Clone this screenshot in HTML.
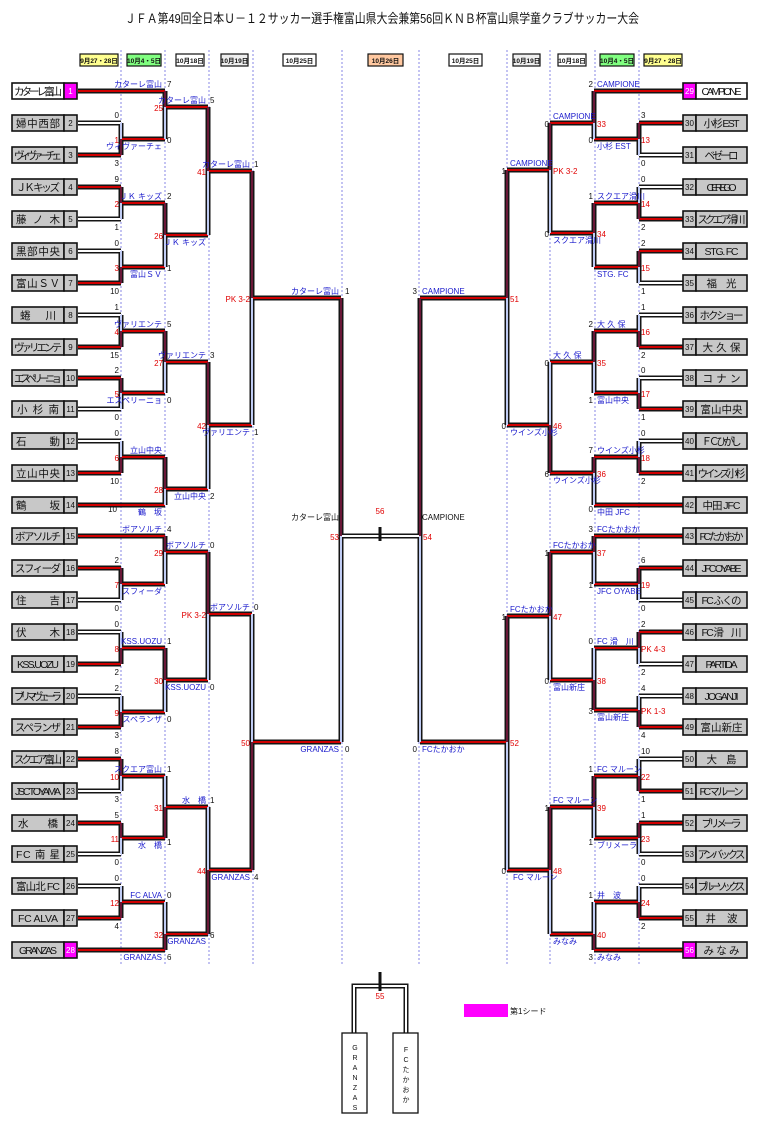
<!DOCTYPE html>
<html><head><meta charset="utf-8"><style>
body{margin:0;background:#fff}
svg{display:block;font-family:"Liberation Sans","Noto Sans CJK JP",sans-serif}
.o{fill:none;stroke:#151515;stroke-width:5}
.r{fill:none;stroke:#d00000;stroke-width:2}
.w{fill:none;stroke:#fff;stroke-width:2}
.d{fill:none;stroke:#6a1838;stroke-width:2}
.l{fill:none;stroke:#c0ccf4;stroke-width:2}
.b{fill:#1a1acc;font-size:8px}
.k{fill:#111;font-size:8px}
.e{fill:#e00000;font-size:8px}
.n{fill:#111;font-size:10.5px}
.nb{fill:#111;font-size:8px}
.h{font-size:6.5px;font-weight:bold;fill:#111}
</style></head><body>
<svg width="764" height="1124" viewBox="0 0 764 1124">
<text x="382" y="23" text-anchor="middle" font-size="13" textLength="514" lengthAdjust="spacingAndGlyphs" fill="#111">ＪＦＡ第49回全日本Ｕ－１２サッカー選手権富山県大会兼第56回ＫＮＢ杯富山県学童クラブサッカー大会</text>

<g stroke="#6a6ae0" stroke-width="0.8" stroke-dasharray="2,2">
<line x1="121" y1="50" x2="121" y2="965"/><line x1="165" y1="50" x2="165" y2="965"/><line x1="209" y1="50" x2="209" y2="965"/><line x1="253" y1="50" x2="253" y2="965"/><line x1="342" y1="50" x2="342" y2="965"/><line x1="419" y1="50" x2="419" y2="965"/><line x1="507" y1="50" x2="507" y2="965"/><line x1="550" y1="50" x2="550" y2="965"/><line x1="595" y1="50" x2="595" y2="965"/><line x1="639" y1="50" x2="639" y2="965"/>
</g>

<g stroke="#111" stroke-width="1.2">
<rect x="80" y="54" width="38" height="12" fill="#ffff90"/><rect x="127" y="54" width="34" height="12" fill="#80ff80"/><rect x="176" y="54" width="28" height="12" fill="#fff"/><rect x="221" y="54" width="27" height="12" fill="#eee"/><rect x="283" y="54" width="33" height="12" fill="#fff"/><rect x="368" y="54" width="35" height="12" fill="#ffc8a0"/>
<rect x="449" y="54" width="33" height="12" fill="#fff"/><rect x="513" y="54" width="27" height="12" fill="#eee"/><rect x="558" y="54" width="28" height="12" fill="#fff"/><rect x="600" y="54" width="34" height="12" fill="#80ff80"/><rect x="644" y="54" width="38" height="12" fill="#ffff90"/>
</g>
<g class="h" text-anchor="middle">
<text x="99" y="63">9月27・28日</text><text x="144" y="63">10月4・5日</text><text x="190" y="63">10月18日</text><text x="234.5" y="63">10月19日</text><text x="299.5" y="63">10月25日</text><text x="385.5" y="63">10月26日</text>
<text x="465.5" y="63">10月25日</text><text x="526.5" y="63">10月19日</text><text x="572" y="63">10月18日</text><text x="617" y="63">10月4・5日</text><text x="663" y="63">9月27・28日</text>
</g>

<!-- outlines -->
<path class="o" d="M78 155H121M78 187H121M78 283H121M78 347H121M78 378H121M78 473H121M78 568H121M78 664H121M78 727H121M78 759H121M78 823H121M78 918H121M78 91H165M78 505H165M78 536H165M78 950H165M78 123H121M78 219H121M78 251H121M78 315H121M78 409H121M78 441H121M78 600H121M78 632H121M78 696H121M78 791H121M78 854H121M78 886H121
M121 139H165M121 203H165M121 267H165M121 331H165M121 393H165M121 457H165M121 584H165M121 648H165M121 712H165M121 776H165M121 838H165M121 902H165
M165 107H208M165 235H208M165 362H208M165 489H208M165 552H208M165 680H208M165 807H208M165 934H208
M208 171H252M208 425H252M208 614H252M208 870H252M252 298H341M252 742H341M341 536H420
M121 123V155M121 187V219M121 251V283M121 315V347M121 378V409M121 441V473M121 568V600M121 632V664M121 696V727M121 759V791M121 823V854M121 886V918
M165 91V139M165 203V267M165 331V393M165 457V505M165 536V584M165 648V712M165 776V838M165 902V950
M208 107V235M208 362V489M208 552V680M208 807V934M252 171V425M252 614V870M341 298V742
M639 123H683M639 219H683M639 251H683M639 347H683M639 409H683M639 473H683M639 568H683M639 632H683M639 727H683M639 791H683M639 823H683M639 918H683M594 91H683M594 505H683M594 536H683M594 950H683M639 155H683M639 187H683M639 283H683M639 315H683M639 378H683M639 441H683M639 600H683M639 664H683M639 696H683M639 759H683M639 854H683M639 886H683
M594 139H639M594 203H639M594 267H639M594 331H639M594 393H639M594 457H639M594 584H639M594 648H639M594 710H639M594 776H639M594 838H639M594 902H639
M550 123H594M550 233H594M550 362H594M550 473H594M550 552H594M550 680H594M550 807H594M550 934H594
M507 170H550M507 425H550M507 616H550M507 870H550M420 298H507M420 742H507
M639 123V155M639 187V219M639 251V283M639 315V347M639 378V409M639 441V473M639 568V600M639 632V664M639 696V727M639 759V791M639 823V854M639 886V918
M594 91V139M594 203V267M594 331V393M594 457V505M594 536V584M594 648V710M594 776V838M594 902V950
M550 123V233M550 362V473M550 552V680M550 807V934M507 170V425M507 616V870M420 298V742
M354 1033V986H406V1033"/>

<!-- red horizontals -->
<path class="r" d="M78 155H121M78 187H121M78 283H121M78 347H121M78 378H121M78 473H121M78 568H121M78 664H121M78 727H121M78 759H121M78 823H121M78 918H121M78 91H165M78 505H165M78 536H165M78 950H165
M121 139H165M121 203H165M121 267H165M121 331H165M121 393H165M121 457H165M121 584H165M121 648H165M121 712H165M121 776H165M121 838H165M121 902H165
M165 107H208M165 235H208M165 362H208M165 489H208M165 552H208M165 680H208M165 807H208M165 934H208
M208 171H252M208 425H252M208 614H252M208 870H252M252 298H341M252 742H341
M639 123H683M639 219H683M639 251H683M639 347H683M639 409H683M639 473H683M639 568H683M639 632H683M639 727H683M639 791H683M639 823H683M639 918H683M594 91H683M594 505H683M594 536H683M594 950H683
M594 139H639M594 203H639M594 267H639M594 331H639M594 393H639M594 457H639M594 584H639M594 648H639M594 710H639M594 776H639M594 838H639M594 902H639
M550 123H594M550 233H594M550 362H594M550 473H594M550 552H594M550 680H594M550 807H594M550 934H594
M507 170H550M507 425H550M507 616H550M507 870H550M420 298H507M420 742H507"/>
<!-- white horizontals -->
<path class="w" d="M78 123H121M78 219H121M78 251H121M78 315H121M78 409H121M78 441H121M78 600H121M78 632H121M78 696H121M78 791H121M78 854H121M78 886H121M341 536H420
M639 155H683M639 187H683M639 283H683M639 315H683M639 378H683M639 441H683M639 600H683M639 664H683M639 696H683M639 759H683M639 854H683M639 886H683
M354 1033V986H406V1033"/>
<!-- dark verticals -->
<path class="d" d="M121 139V155M121 187V203M121 267V283M121 331V347M121 378V393M121 457V473M121 568V584M121 648V664M121 712V727M121 759V776M121 823V838M121 902V918
M165 91V107M165 203V235M165 331V362M165 457V489M165 536V552M165 648V680M165 807V838M165 934V950
M208 107V171M208 362V425M208 552V614M208 870V934M252 171V298M252 742V870M341 298V536
M639 123V139M639 203V219M639 251V267M639 331V347M639 393V409M639 457V473M639 568V584M639 632V648M639 710V727M639 776V791M639 823V838M639 902V918
M594 91V123M594 203V233M594 331V362M594 457V473M594 536V552M594 680V710M594 776V807M594 934V950
M550 123V170M550 425V473M550 552V616M550 807V870M507 170V298M507 616V742M420 298V536"/>
<!-- light verticals -->
<path class="l" d="M121 123V139M121 203V219M121 251V267M121 315V331M121 393V409M121 441V457M121 584V600M121 632V648M121 696V712M121 776V791M121 838V854M121 886V902
M165 107V139M165 235V267M165 362V393M165 489V505M165 552V584M165 680V712M165 776V807M165 902V934
M208 171V235M208 425V489M208 614V680M208 807V870M252 298V425M252 614V742M341 536V742
M639 139V155M639 187V203M639 267V283M639 315V331M639 378V393M639 441V457M639 584V600M639 648V664M639 696V710M639 759V776M639 838V854M639 886V902
M594 123V139M594 233V267M594 362V393M594 473V505M594 552V584M594 648V680M594 807V838M594 902V934
M550 170V233M550 362V425M550 616V680M550 870V934M507 298V425M507 742V870M420 536V742"/>
<path d="M380 527V541M380 972V991" stroke="#111" stroke-width="3"/>

<!-- left team boxes -->
<g stroke="#111" stroke-width="1.6">
<rect x="12" y="83" width="52" height="16" fill="#fff"/><rect x="64" y="83" width="13" height="16" fill="#ff00ff"/>
<rect x="12" y="115" width="52" height="16" fill="#c8c8c8"/><rect x="64" y="115" width="13" height="16" fill="#c8c8c8"/>
<rect x="12" y="147" width="52" height="16" fill="#c8c8c8"/><rect x="64" y="147" width="13" height="16" fill="#c8c8c8"/>
<rect x="12" y="179" width="52" height="16" fill="#c8c8c8"/><rect x="64" y="179" width="13" height="16" fill="#c8c8c8"/>
<rect x="12" y="211" width="52" height="16" fill="#c8c8c8"/><rect x="64" y="211" width="13" height="16" fill="#c8c8c8"/>
<rect x="12" y="243" width="52" height="16" fill="#c8c8c8"/><rect x="64" y="243" width="13" height="16" fill="#c8c8c8"/>
<rect x="12" y="275" width="52" height="16" fill="#c8c8c8"/><rect x="64" y="275" width="13" height="16" fill="#c8c8c8"/>
<rect x="12" y="307" width="52" height="16" fill="#c8c8c8"/><rect x="64" y="307" width="13" height="16" fill="#c8c8c8"/>
<rect x="12" y="339" width="52" height="16" fill="#c8c8c8"/><rect x="64" y="339" width="13" height="16" fill="#c8c8c8"/>
<rect x="12" y="370" width="52" height="16" fill="#c8c8c8"/><rect x="64" y="370" width="13" height="16" fill="#c8c8c8"/>
<rect x="12" y="401" width="52" height="16" fill="#c8c8c8"/><rect x="64" y="401" width="13" height="16" fill="#c8c8c8"/>
<rect x="12" y="433" width="52" height="16" fill="#c8c8c8"/><rect x="64" y="433" width="13" height="16" fill="#c8c8c8"/>
<rect x="12" y="465" width="52" height="16" fill="#c8c8c8"/><rect x="64" y="465" width="13" height="16" fill="#c8c8c8"/>
<rect x="12" y="497" width="52" height="16" fill="#c8c8c8"/><rect x="64" y="497" width="13" height="16" fill="#c8c8c8"/>
<rect x="12" y="528" width="52" height="16" fill="#c8c8c8"/><rect x="64" y="528" width="13" height="16" fill="#c8c8c8"/>
<rect x="12" y="560" width="52" height="16" fill="#c8c8c8"/><rect x="64" y="560" width="13" height="16" fill="#c8c8c8"/>
<rect x="12" y="592" width="52" height="16" fill="#c8c8c8"/><rect x="64" y="592" width="13" height="16" fill="#c8c8c8"/>
<rect x="12" y="624" width="52" height="16" fill="#c8c8c8"/><rect x="64" y="624" width="13" height="16" fill="#c8c8c8"/>
<rect x="12" y="656" width="52" height="16" fill="#c8c8c8"/><rect x="64" y="656" width="13" height="16" fill="#c8c8c8"/>
<rect x="12" y="688" width="52" height="16" fill="#c8c8c8"/><rect x="64" y="688" width="13" height="16" fill="#c8c8c8"/>
<rect x="12" y="719" width="52" height="16" fill="#c8c8c8"/><rect x="64" y="719" width="13" height="16" fill="#c8c8c8"/>
<rect x="12" y="751" width="52" height="16" fill="#c8c8c8"/><rect x="64" y="751" width="13" height="16" fill="#c8c8c8"/>
<rect x="12" y="783" width="52" height="16" fill="#c8c8c8"/><rect x="64" y="783" width="13" height="16" fill="#c8c8c8"/>
<rect x="12" y="815" width="52" height="16" fill="#c8c8c8"/><rect x="64" y="815" width="13" height="16" fill="#c8c8c8"/>
<rect x="12" y="846" width="52" height="16" fill="#c8c8c8"/><rect x="64" y="846" width="13" height="16" fill="#c8c8c8"/>
<rect x="12" y="878" width="52" height="16" fill="#c8c8c8"/><rect x="64" y="878" width="13" height="16" fill="#c8c8c8"/>
<rect x="12" y="910" width="52" height="16" fill="#c8c8c8"/><rect x="64" y="910" width="13" height="16" fill="#c8c8c8"/>
<rect x="12" y="942" width="52" height="16" fill="#c8c8c8"/><rect x="64" y="942" width="13" height="16" fill="#ff00ff"/>
</g>
<g class="n" text-anchor="middle" lengthAdjust="spacingAndGlyphs">
<text x="38" y="95" textLength="48">カターレ富山</text><text x="38" y="127" textLength="44">婦 中 西 部</text><text x="38" y="159" textLength="48">ヴィヴァーチェ</text><text x="38" y="191" textLength="44">ＪＫ キッズ</text><text x="38" y="223" textLength="44">藤　ノ　木</text><text x="38" y="255" textLength="44">黒部中央</text><text x="38" y="287" textLength="44">富山ＳＶ</text><text x="38" y="319" textLength="36">蜷　川</text><text x="38" y="351" textLength="48">ヴァリエンテ</text><text x="38" y="382" textLength="48">エスペリーニョ</text><text x="38" y="413" textLength="42">小杉南</text><text x="38" y="445" textLength="44">石　動</text><text x="38" y="477" textLength="44">立山中央</text><text x="38" y="509" textLength="44">鶴　坂</text><text x="38" y="540" textLength="46">ボアソルチ</text><text x="38" y="572" textLength="46">スフィーダ</text><text x="38" y="604" textLength="44">住　吉</text><text x="38" y="636" textLength="44">伏　木</text><text x="38" y="668" textLength="42">KSS.UOZU</text><text x="38" y="700" textLength="48">ブリマヴェーラ</text><text x="38" y="731" textLength="46">スペランザ</text><text x="38" y="763" textLength="48">スクエア富山</text><text x="38" y="795" textLength="46">JSC TOYAMA</text><text x="38" y="827" textLength="40">水　橋</text><text x="38" y="858" textLength="44">FC 南 星</text><text x="38" y="890" textLength="44">富山北 FC</text><text x="38" y="922" textLength="40">FC ALVA</text><text x="38" y="954" textLength="38">GRANZAS</text>
</g>
<g class="nb" text-anchor="middle">
<text x="70.5" y="94" fill="#fff">1</text><text x="70.5" y="126">2</text><text x="70.5" y="158">3</text><text x="70.5" y="190">4</text><text x="70.5" y="222">5</text><text x="70.5" y="254">6</text><text x="70.5" y="286">7</text><text x="70.5" y="318">8</text><text x="70.5" y="350">9</text><text x="70.5" y="381">10</text><text x="70.5" y="412">11</text><text x="70.5" y="444">12</text><text x="70.5" y="476">13</text><text x="70.5" y="508">14</text><text x="70.5" y="539">15</text><text x="70.5" y="571">16</text><text x="70.5" y="603">17</text><text x="70.5" y="635">18</text><text x="70.5" y="667">19</text><text x="70.5" y="699">20</text><text x="70.5" y="730">21</text><text x="70.5" y="762">22</text><text x="70.5" y="794">23</text><text x="70.5" y="826">24</text><text x="70.5" y="857">25</text><text x="70.5" y="889">26</text><text x="70.5" y="921">27</text><text x="70.5" y="953" fill="#fff">28</text>
</g>

<!-- right team boxes -->
<g stroke="#111" stroke-width="1.6">
<rect x="683" y="83" width="13" height="16" fill="#ff00ff"/><rect x="696" y="83" width="51" height="16" fill="#fff"/>
<rect x="683" y="115" width="13" height="16" fill="#c8c8c8"/><rect x="696" y="115" width="51" height="16" fill="#c8c8c8"/>
<rect x="683" y="147" width="13" height="16" fill="#c8c8c8"/><rect x="696" y="147" width="51" height="16" fill="#c8c8c8"/>
<rect x="683" y="179" width="13" height="16" fill="#c8c8c8"/><rect x="696" y="179" width="51" height="16" fill="#c8c8c8"/>
<rect x="683" y="211" width="13" height="16" fill="#c8c8c8"/><rect x="696" y="211" width="51" height="16" fill="#c8c8c8"/>
<rect x="683" y="243" width="13" height="16" fill="#c8c8c8"/><rect x="696" y="243" width="51" height="16" fill="#c8c8c8"/>
<rect x="683" y="275" width="13" height="16" fill="#c8c8c8"/><rect x="696" y="275" width="51" height="16" fill="#c8c8c8"/>
<rect x="683" y="307" width="13" height="16" fill="#c8c8c8"/><rect x="696" y="307" width="51" height="16" fill="#c8c8c8"/>
<rect x="683" y="339" width="13" height="16" fill="#c8c8c8"/><rect x="696" y="339" width="51" height="16" fill="#c8c8c8"/>
<rect x="683" y="370" width="13" height="16" fill="#c8c8c8"/><rect x="696" y="370" width="51" height="16" fill="#c8c8c8"/>
<rect x="683" y="401" width="13" height="16" fill="#c8c8c8"/><rect x="696" y="401" width="51" height="16" fill="#c8c8c8"/>
<rect x="683" y="433" width="13" height="16" fill="#c8c8c8"/><rect x="696" y="433" width="51" height="16" fill="#c8c8c8"/>
<rect x="683" y="465" width="13" height="16" fill="#c8c8c8"/><rect x="696" y="465" width="51" height="16" fill="#c8c8c8"/>
<rect x="683" y="497" width="13" height="16" fill="#c8c8c8"/><rect x="696" y="497" width="51" height="16" fill="#c8c8c8"/>
<rect x="683" y="528" width="13" height="16" fill="#c8c8c8"/><rect x="696" y="528" width="51" height="16" fill="#c8c8c8"/>
<rect x="683" y="560" width="13" height="16" fill="#c8c8c8"/><rect x="696" y="560" width="51" height="16" fill="#c8c8c8"/>
<rect x="683" y="592" width="13" height="16" fill="#c8c8c8"/><rect x="696" y="592" width="51" height="16" fill="#c8c8c8"/>
<rect x="683" y="624" width="13" height="16" fill="#c8c8c8"/><rect x="696" y="624" width="51" height="16" fill="#c8c8c8"/>
<rect x="683" y="656" width="13" height="16" fill="#c8c8c8"/><rect x="696" y="656" width="51" height="16" fill="#c8c8c8"/>
<rect x="683" y="688" width="13" height="16" fill="#c8c8c8"/><rect x="696" y="688" width="51" height="16" fill="#c8c8c8"/>
<rect x="683" y="719" width="13" height="16" fill="#c8c8c8"/><rect x="696" y="719" width="51" height="16" fill="#c8c8c8"/>
<rect x="683" y="751" width="13" height="16" fill="#c8c8c8"/><rect x="696" y="751" width="51" height="16" fill="#c8c8c8"/>
<rect x="683" y="783" width="13" height="16" fill="#c8c8c8"/><rect x="696" y="783" width="51" height="16" fill="#c8c8c8"/>
<rect x="683" y="815" width="13" height="16" fill="#c8c8c8"/><rect x="696" y="815" width="51" height="16" fill="#c8c8c8"/>
<rect x="683" y="846" width="13" height="16" fill="#c8c8c8"/><rect x="696" y="846" width="51" height="16" fill="#c8c8c8"/>
<rect x="683" y="878" width="13" height="16" fill="#c8c8c8"/><rect x="696" y="878" width="51" height="16" fill="#c8c8c8"/>
<rect x="683" y="910" width="13" height="16" fill="#c8c8c8"/><rect x="696" y="910" width="51" height="16" fill="#c8c8c8"/>
<rect x="683" y="942" width="13" height="16" fill="#ff00ff"/><rect x="696" y="942" width="51" height="16" fill="#c8c8c8"/>
</g>
<g class="n" text-anchor="middle" lengthAdjust="spacingAndGlyphs">
<text x="721.5" y="95" textLength="40">CAMPIONE</text><text x="721.5" y="127" textLength="36">小杉 EST</text><text x="721.5" y="159" textLength="34">ベゼーロ</text><text x="721.5" y="191" textLength="30">CEREGO</text><text x="721.5" y="223" textLength="48">スクエア滑川</text><text x="721.5" y="255" textLength="34">STG. FC</text><text x="721.5" y="287" textLength="30">福　光</text><text x="721.5" y="319" textLength="44">ホクショー</text><text x="721.5" y="351" textLength="38">大 久 保</text><text x="721.5" y="382" textLength="38">コ ナ ン</text><text x="721.5" y="413" textLength="42">富山中央</text><text x="721.5" y="445" textLength="40">ＦＣ ひがし</text><text x="721.5" y="477" textLength="48">ウインズ小杉</text><text x="721.5" y="509" textLength="38">中田 JFC</text><text x="721.5" y="540" textLength="44">FCたかおか</text><text x="721.5" y="572" textLength="40">JFC OYABE</text><text x="721.5" y="604" textLength="40">FC ふくの</text><text x="721.5" y="636" textLength="40">FC 滑　川</text><text x="721.5" y="668" textLength="32">PARTIDA</text><text x="721.5" y="700" textLength="34">JOGANJI</text><text x="721.5" y="731" textLength="42">富山新庄</text><text x="721.5" y="763" textLength="30">大　島</text><text x="721.5" y="795" textLength="44">FC マルーン</text><text x="721.5" y="827" textLength="40">ブリメーラ</text><text x="721.5" y="858" textLength="48">アンバックス</text><text x="721.5" y="890" textLength="48">ブルーソックス</text><text x="721.5" y="922" textLength="32">井　波</text><text x="721.5" y="954" textLength="36">みなみ</text>
</g>
<g class="nb" text-anchor="middle">
<text x="689.5" y="94" fill="#fff">29</text><text x="689.5" y="126">30</text><text x="689.5" y="158">31</text><text x="689.5" y="190">32</text><text x="689.5" y="222">33</text><text x="689.5" y="254">34</text><text x="689.5" y="286">35</text><text x="689.5" y="318">36</text><text x="689.5" y="350">37</text><text x="689.5" y="381">38</text><text x="689.5" y="412">39</text><text x="689.5" y="444">40</text><text x="689.5" y="476">41</text><text x="689.5" y="508">42</text><text x="689.5" y="539">43</text><text x="689.5" y="571">44</text><text x="689.5" y="603">45</text><text x="689.5" y="635">46</text><text x="689.5" y="667">47</text><text x="689.5" y="699">48</text><text x="689.5" y="730">49</text><text x="689.5" y="762">50</text><text x="689.5" y="794">51</text><text x="689.5" y="826">52</text><text x="689.5" y="857">53</text><text x="689.5" y="889">54</text><text x="689.5" y="921">55</text><text x="689.5" y="953" fill="#fff">56</text>
</g>

<!-- round1 scores & match nums left -->
<g class="k" text-anchor="end">
<text x="119" y="118">0</text><text x="119" y="166">3</text><text x="119" y="182">9</text><text x="119" y="230">1</text><text x="119" y="246">0</text><text x="119" y="294">10</text><text x="119" y="310">1</text><text x="119" y="358">15</text><text x="119" y="373">2</text><text x="119" y="420">0</text><text x="119" y="436">0</text><text x="119" y="484">10</text><text x="119" y="563">2</text><text x="119" y="611">0</text><text x="119" y="627">0</text><text x="119" y="675">2</text><text x="119" y="691">2</text><text x="119" y="738">3</text><text x="119" y="754">8</text><text x="119" y="802">3</text><text x="119" y="818">5</text><text x="119" y="865">0</text><text x="119" y="881">0</text><text x="119" y="929">4</text>
</g>
<g class="e" text-anchor="end">
<text x="119" y="143">1</text><text x="119" y="207">2</text><text x="119" y="271">3</text><text x="119" y="335">4</text><text x="119" y="397">5</text><text x="119" y="461">6</text><text x="119" y="588">7</text><text x="119" y="652">8</text><text x="119" y="716">9</text><text x="119" y="780">10</text><text x="119" y="842">11</text><text x="119" y="906">12</text>
<text x="163" y="111">25</text><text x="163" y="239">26</text><text x="163" y="366">27</text><text x="163" y="493">28</text><text x="163" y="556">29</text><text x="163" y="684">30</text><text x="163" y="811">31</text><text x="163" y="938">32</text>
<text x="206" y="175">41</text><text x="206" y="429">42</text><text x="206" y="618">PK 3-2</text><text x="206" y="874">44</text>
<text x="250" y="302">PK 3-2</text><text x="250" y="746">50</text><text x="339" y="540">53</text>
</g>
<!-- left blue labels -->
<g class="b" text-anchor="end">
<text x="162" y="87">カターレ富山</text><text x="162" y="199">ＪＫ キッズ</text><text x="162" y="327">ヴァリエンテ</text><text x="162" y="453">立山中央</text><text x="162" y="532">ボアソルチ</text><text x="162" y="644">KSS.UOZU</text><text x="162" y="772">スクエア富山</text><text x="162" y="898">FC ALVA</text>
<text x="162" y="149">ヴィヴァーチェ</text><text x="162" y="277">富山ＳＶ</text><text x="162" y="403">エスペリーニョ</text><text x="162" y="515">鶴　坂</text><text x="162" y="594">スフィーダ</text><text x="162" y="722">スペランザ</text><text x="162" y="848">水　橋</text><text x="162" y="960">GRANZAS</text>
<text x="206" y="103">カターレ富山</text><text x="206" y="358">ヴァリエンテ</text><text x="206" y="548">ボアソルチ</text><text x="206" y="803">水　橋</text>
<text x="206" y="245">ＪＫ キッズ</text><text x="206" y="499">立山中央</text><text x="206" y="690">KSS.UOZU</text><text x="206" y="944">GRANZAS</text>
<text x="250" y="167">カターレ富山</text><text x="250" y="610">ボアソルチ</text><text x="250" y="435">ヴァリエンテ</text><text x="250" y="880">GRANZAS</text>
<text x="339" y="294">カターレ富山</text><text x="339" y="752">GRANZAS</text>
</g>
<text x="339" y="520" class="k" text-anchor="end">カターレ富山</text>
<g class="k">
<text x="167" y="87">7</text><text x="167" y="199">2</text><text x="167" y="327">5</text><text x="167" y="532">4</text><text x="167" y="644">1</text><text x="167" y="772">1</text><text x="167" y="898">0</text>
<text x="167" y="143">0</text><text x="167" y="271">1</text><text x="167" y="403">0</text><text x="117" y="512" text-anchor="end">10</text><text x="167" y="722">0</text><text x="167" y="845">1</text><text x="167" y="960">6</text>
<text x="210" y="103">5</text><text x="210" y="358">3</text><text x="210" y="548">0</text><text x="210" y="803">1</text><text x="210" y="499">2</text><text x="210" y="690">0</text><text x="210" y="938">6</text>
<text x="254" y="167">1</text><text x="254" y="610">0</text><text x="254" y="435">1</text><text x="254" y="880">4</text>
<text x="345" y="294">1</text><text x="345" y="752">0</text>
</g>

<!-- right scores -->
<g class="k">
<text x="641" y="118">3</text><text x="641" y="166">0</text><text x="641" y="182">0</text><text x="641" y="230">2</text><text x="641" y="246">2</text><text x="641" y="294">1</text><text x="641" y="310">1</text><text x="641" y="358">2</text><text x="641" y="373">0</text><text x="641" y="420">1</text><text x="641" y="436">0</text><text x="641" y="484">2</text><text x="641" y="563">6</text><text x="641" y="611">0</text><text x="641" y="627">2</text><text x="641" y="675">2</text><text x="641" y="691">4</text><text x="641" y="738">4</text><text x="641" y="754">10</text><text x="641" y="802">1</text><text x="641" y="818">1</text><text x="641" y="865">0</text><text x="641" y="881">0</text><text x="641" y="929">2</text>
</g>
<g class="e">
<text x="641" y="143">13</text><text x="641" y="207">14</text><text x="641" y="271">15</text><text x="641" y="335">16</text><text x="641" y="397">17</text><text x="641" y="461">18</text><text x="641" y="588">19</text><text x="641" y="652">PK 4-3</text><text x="641" y="714">PK 1-3</text><text x="641" y="780">22</text><text x="641" y="842">23</text><text x="641" y="906">24</text>
<text x="597" y="127">33</text><text x="597" y="237">34</text><text x="597" y="366">35</text><text x="597" y="477">36</text><text x="597" y="556">37</text><text x="597" y="684">38</text><text x="597" y="811">39</text><text x="597" y="938">40</text>
<text x="553" y="174">PK 3-2</text><text x="553" y="429">46</text><text x="553" y="620">47</text><text x="553" y="874">48</text>
<text x="510" y="302">51</text><text x="510" y="746">52</text><text x="423" y="540">54</text>
</g>
<g class="b">
<text x="597" y="87">CAMPIONE</text><text x="597" y="199">スクエア滑川</text><text x="597" y="327">大 久 保</text><text x="597" y="453">ウインズ小杉</text><text x="597" y="532">FCたかおか</text><text x="597" y="644">FC 滑　川</text><text x="597" y="772">FC マルーン</text><text x="597" y="898">井　波</text>
<text x="597" y="149">小杉 EST</text><text x="597" y="277">STG. FC</text><text x="597" y="403">富山中央</text><text x="597" y="515">中田 JFC</text><text x="597" y="594">JFC OYABE</text><text x="597" y="720">富山新庄</text><text x="597" y="848">ブリメーラ</text><text x="597" y="960">みなみ</text>
<text x="553" y="119">CAMPIONE</text><text x="553" y="358">大 久 保</text><text x="553" y="548">FCたかおか</text><text x="553" y="803">FC マルーン</text>
<text x="553" y="243">スクエア滑川</text><text x="553" y="483">ウインズ小杉</text><text x="553" y="690">富山新庄</text><text x="553" y="944">みなみ</text>
<text x="510" y="166">CAMPIONE</text><text x="510" y="612">FCたかおか</text><text x="510" y="435">ウインズ小杉</text><text x="513" y="880">FC マルーン</text>
<text x="422" y="294">CAMPIONE</text><text x="422" y="752">FCたかおか</text>
</g>
<text x="422" y="520" class="k">CAMPIONE</text>
<g class="k" text-anchor="end">
<text x="593" y="87">2</text><text x="593" y="199">1</text><text x="593" y="327">2</text><text x="593" y="453">7</text><text x="593" y="532">3</text><text x="593" y="644">0</text><text x="593" y="772">1</text><text x="593" y="898">1</text>
<text x="593" y="143">0</text><text x="593" y="403">1</text><text x="593" y="512">0</text><text x="593" y="588">1</text><text x="593" y="714">3</text><text x="593" y="845">1</text><text x="593" y="960">3</text>
<text x="549" y="127">0</text><text x="549" y="366">0</text><text x="549" y="556">1</text><text x="549" y="811">1</text><text x="549" y="237">0</text><text x="549" y="477">6</text><text x="549" y="684">0</text>
<text x="506" y="174">1</text><text x="506" y="620">1</text><text x="506" y="429">0</text><text x="506" y="874">0</text>
<text x="417" y="294">3</text><text x="417" y="752">0</text>
</g>
<text x="380" y="514" class="e" text-anchor="middle">56</text>

<!-- bottom -->
<text x="380" y="999" class="e" text-anchor="middle">55</text>
<rect x="342" y="1033" width="25" height="80" fill="#fff" stroke="#111" stroke-width="1.3"/>
<rect x="393" y="1033" width="25" height="80" fill="#fff" stroke="#111" stroke-width="1.3"/>
<g font-size="7" fill="#111" text-anchor="middle">
<text x="355" y="1050">G</text><text x="355" y="1060">R</text><text x="355" y="1070">A</text><text x="355" y="1080">N</text><text x="355" y="1090">Z</text><text x="355" y="1100">A</text><text x="355" y="1110">S</text>
<text x="406" y="1052">F</text><text x="406" y="1062">C</text><text x="406" y="1072">た</text><text x="406" y="1082">か</text><text x="406" y="1092">お</text><text x="406" y="1102">か</text>
</g>
<rect x="464" y="1004" width="44" height="13" fill="#ff00ff"/>
<text x="510" y="1014" font-size="8" fill="#111">第1シード</text>
</svg>
</body></html>
